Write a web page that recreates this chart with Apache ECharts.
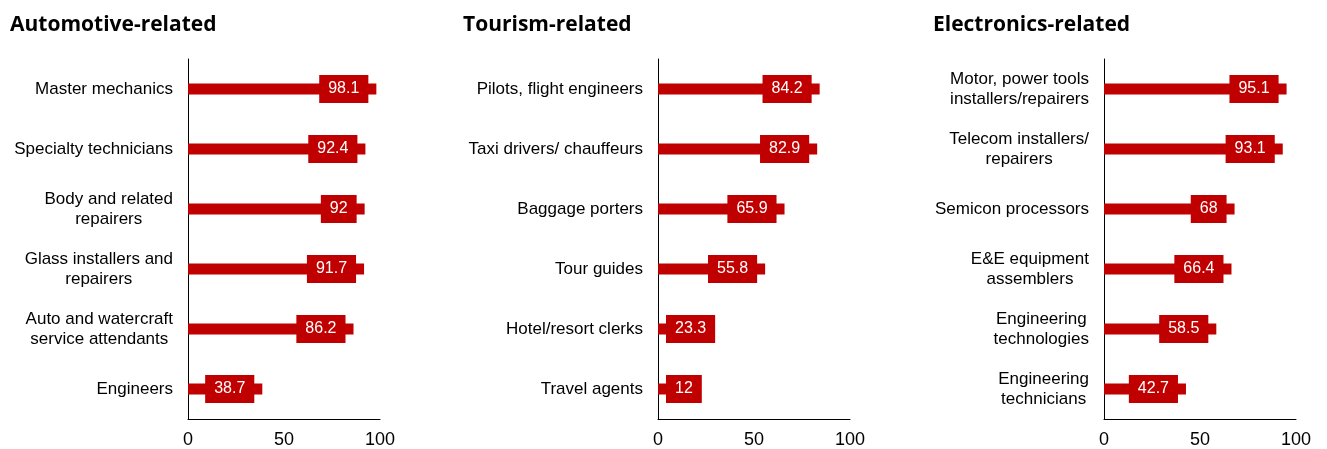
<!DOCTYPE html>
<html>
<head>
<meta charset="utf-8">
<script src="https://cdn.jsdelivr.net/npm/echarts@6/dist/echarts.min.js"></script>
<style>
html,body{margin:0;padding:0;background:#fff;}
#chart{width:1327px;height:449px;}
</style>
</head>
<body>
<div id="chart"></div>
<script>
const titles = ["Automotive-related", "Tourism-related", "Electronics-related"];

const autoCategories = ["Master mechanics", "Specialty technicians", "Body and related\nrepairers", "Glass installers and\nrepairers", "Auto and watercraft\nservice attendants", "Engineers"];
const autoValues = [98.1, 92.4, 92, 91.7, 86.2, 38.7];

const tourismCategories = ["Pilots, flight engineers", "Taxi drivers/ chauffeurs", "Baggage porters", "Tour guides", "Hotel/resort clerks", "Travel agents"];
const tourismValues = [84.2, 82.9, 65.9, 55.8, 23.3, 12];

const electronicsCategories = ["Motor, power tools\ninstallers/repairers", "Telecom installers/\nrepairers", "Semicon processors", "E&E equipment\nassemblers", "Engineering\ntechnologies", "Engineering\ntechnicians"];
const electronicsValues = [95.1, 93.1, 68, 66.4, 58.5, 42.7];

const xTicks = [0, 50, 100];

const panels = [
  {cats: autoCategories, vals: autoValues, left: 188, titleLeft: 10},
  {cats: tourismCategories, vals: tourismValues, left: 658, titleLeft: 463},
  {cats: electronicsCategories, vals: electronicsValues, left: 1104, titleLeft: 933}
];

const RED = '#C00000';
const chart = echarts.init(document.getElementById('chart'), null, {renderer: 'canvas'});

const catFont = {fontFamily: 'Liberation Sans, Arial', fontSize: 17, color: '#000', lineHeight: 20};

const option = {
  animation: false,
  backgroundColor: '#fff',
  title: panels.map((p, i) => ({
    text: titles[i],
    left: p.titleLeft,
    top: 15,
    padding: 0,
    textStyle: {fontFamily: 'Open Sans', fontWeight: 'bold', fontSize: 21, color: '#000'}
  })),
  grid: panels.map(p => ({left: p.left, width: 192, top: 59, height: 360, containLabel: false})),
  xAxis: panels.map((p, i) => ({
    gridIndex: i,
    type: 'value',
    min: xTicks[0],
    max: xTicks[xTicks.length - 1],
    interval: xTicks[1] - xTicks[0],
    splitLine: {show: false},
    axisTick: {show: false},
    axisLine: {show: true, lineStyle: {color: '#000', width: 1}},
    axisLabel: {fontFamily: 'Liberation Sans, Arial', fontSize: 18, color: '#000', margin: 12}
  })),
  yAxis: panels.map((p, i) => ({
    gridIndex: i,
    type: 'category',
    inverse: true,
    data: p.cats,
    axisTick: {show: false},
    axisLine: {show: true, lineStyle: {color: '#000', width: 1}},
    axisLabel: Object.assign({}, catFont, {
      margin: 15,
      align: 'right',
      formatter: function (v) {
        return v.split('\n').map(s => '{c|' + s + '}').join('\n');
      },
      rich: {c: Object.assign({}, catFont, {align: 'center'})}
    })
  })),
  series: panels.map((p, i) => ({
    type: 'bar',
    xAxisIndex: i,
    yAxisIndex: i,
    barWidth: 11,
    itemStyle: {color: RED},
    data: p.vals.map(v => ({
      value: v,
      label: {position: v < 35 ? 'insideLeft' : 'insideRight'}
    })),
    label: {
      show: true,
      distance: 8,
      fontFamily: 'Liberation Sans, Arial',
      fontSize: 16,
      lineHeight: 16,
      color: '#fff',
      backgroundColor: RED,
      padding: [6, 9, 6, 9]
    }
  }))
};
chart.setOption(option);
</script>
</body>
</html>
